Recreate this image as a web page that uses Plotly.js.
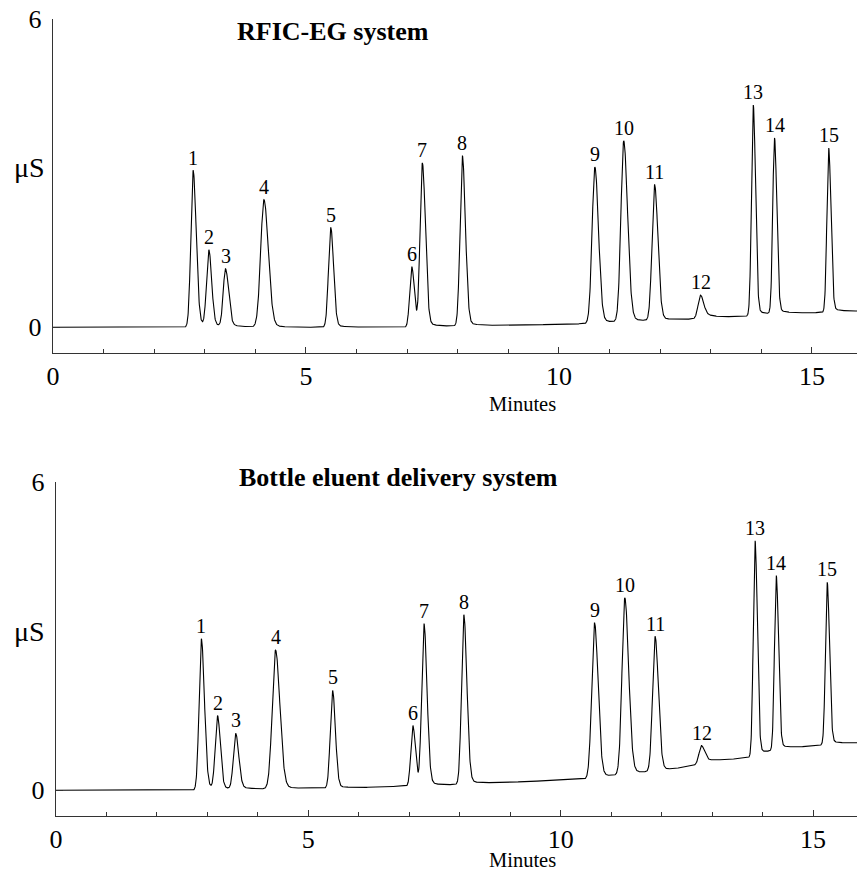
<!DOCTYPE html>
<html>
<head>
<meta charset="utf-8">
<script src="https://cdn.plot.ly/plotly-3.0.1.min.js"></script>
<style>html,body{margin:0;padding:0;background:#fff;}#chart{width:857px;height:870px;}</style>
</head>
<body>
<div id="chart"></div>
<script>
// ---- Data ----
const peakLabels = ["1","2","3","4","5","6","7","8","9","10","11","12","13","14","15"];

// RFIC-EG system (top)
const topTimes   = [2.77, 3.08, 3.41, 4.17, 5.49, 7.09, 7.30, 8.09, 10.71, 11.28, 11.89, 12.80, 13.84, 14.26, 15.33];
const topHeights = [3.05, 1.48, 1.12, 2.48, 1.94, 1.18, 3.18, 3.32, 3.04, 3.52, 2.64, 0.46, 4.10, 3.42, 3.20];
const topBaseT   = [0, 2.7, 5.0, 7.0, 8.0, 8.6, 10.5, 12.2, 12.7, 13.6, 14.7, 15.9];
const topBaseY   = [0, 0, 0, 0, 0.02, 0.03, 0.07, 0.14, 0.16, 0.21, 0.27, 0.31];

// Bottle eluent delivery system (bottom)
const botTimes   = [2.88, 3.20, 3.56, 4.35, 5.48, 7.07, 7.29, 8.08, 10.67, 11.27, 11.87, 12.79, 13.85, 14.27, 15.28];
const botHeights = [2.95, 1.42, 1.08, 2.70, 1.90, 1.18, 3.15, 3.30, 3.02, 3.44, 2.62, 0.36, 4.20, 3.40, 3.16];
const botBaseT   = [0, 2.8, 4.0, 4.6, 6.0, 6.9, 7.6, 8.6, 10.5, 12.2, 12.64, 13.04, 13.77, 14.42, 15.19, 15.87];
const botBaseY   = [0, 0, 0.02, 0.03, 0.05, 0.08, 0.09, 0.14, 0.22, 0.40, 0.48, 0.56, 0.64, 0.80, 0.88, 0.92];

// peak shapes (minutes): leading sigma, trailing sigma, tail fraction
const sigLeft  = [0.045, 0.045, 0.045, 0.065, 0.045, 0.040, 0.045, 0.045, 0.055, 0.055, 0.050, 0.050, 0.035, 0.035, 0.035];
const sigRight = [0.060, 0.055, 0.060, 0.085, 0.055, 0.050, 0.060, 0.060, 0.070, 0.075, 0.065, 0.060, 0.045, 0.045, 0.045];
const tailFrac = [0.04, 0.04, 0.06, 0.03, 0.03, 0.03, 0.03, 0.03, 0.03, 0.03, 0.03, 0.30, 0.03, 0.03, 0.03];
const tailTau = 0.22;

function interp(xs, ys, t) {
  if (t <= xs[0]) return ys[0];
  for (let i = 1; i < xs.length; i++) {
    if (t <= xs[i]) {
      const f = (t - xs[i-1]) / (xs[i] - xs[i-1]);
      return ys[i-1] + f * (ys[i] - ys[i-1]);
    }
  }
  return ys[ys.length - 1];
}

function build(times, heights, baseT, baseY, tEnd) {
  const xs = [], ys = [];
  const step = 0.004;
  for (let t = 0; t <= tEnd + 1e-9; t += step) {
    let y = interp(baseT, baseY, t);
    for (let i = 0; i < times.length; i++) {
      const d = t - times[i];
      if (d < 0) {
        y += heights[i] * Math.exp(-0.5 * (d / sigLeft[i]) ** 2);
      } else {
        const a = tailFrac[i];
        y += heights[i] * ((1 - a) * Math.exp(-0.5 * (d / sigRight[i]) ** 2) + a * Math.exp(-d / tailTau));
      }
    }
    xs.push(+t.toFixed(4)); ys.push(y);
  }
  return {xs, ys};
}

const topSeries = build(topTimes, topHeights, topBaseT, topBaseY, 15.9);
const botSeries = build(botTimes, botHeights, botBaseT, botBaseY, 15.9);

const FONT = "Liberation Serif";
const AX = '#333';

function peakAnnotations(series, times, xref, yref) {
  return times.map((t0, i) => {
    let m = -Infinity;
    for (let k = 0; k < series.xs.length; k++) {
      if (Math.abs(series.xs[k] - t0) < 0.03 && series.ys[k] > m) m = series.ys[k];
    }
    return {x: t0, y: m, xref, yref, text: peakLabels[i], showarrow: false,
            yanchor: 'bottom', yshift: 0, font: {family: FONT, size: 20, color: '#000'}};
  });
}

function xax(domain, range, anchor) {
  return {domain, range, anchor, tickvals: [0, 5, 10, 15], ticktext: ["0","5","10","15"],
    ticks: 'inside', ticklen: 6, tickwidth: 1, tickcolor: AX,
    minor: {dtick: 1, tick0: 0, ticks: 'inside', ticklen: 4, tickwidth: 1, tickcolor: AX},
    showline: true, linecolor: AX, linewidth: 1.2, showgrid: false, zeroline: false,
    tickfont: {family: FONT, size: 26, color: '#000'}, fixedrange: true};
}
function yax(domain, anchor) {
  return {domain, range: [-0.5, 6], anchor, tickvals: [0, 6], ticktext: ["0","6"],
    ticks: 'inside', ticklen: 7, tickwidth: 1, tickcolor: AX, ticklabelstandoff: 5,
    showline: true, linecolor: AX, linewidth: 1.2, showgrid: false, zeroline: false,
    tickfont: {family: FONT, size: 26, color: '#000'}, fixedrange: true};
}

const traces = [
  {x: topSeries.xs, y: topSeries.ys, xaxis: 'x', yaxis: 'y', type: 'scatter', mode: 'lines',
   line: {color: '#000', width: 1.1}, hoverinfo: 'skip'},
  {x: botSeries.xs, y: botSeries.ys, xaxis: 'x2', yaxis: 'y2', type: 'scatter', mode: 'lines',
   line: {color: '#000', width: 1.1}, hoverinfo: 'skip'}
];

const annotations = [
  ...peakAnnotations(topSeries, topTimes, 'x', 'y'),
  ...peakAnnotations(botSeries, botTimes, 'x2', 'y2'),
  {text: '<b>RFIC-EG system</b>', xref: 'paper', yref: 'paper', x: 333/857, y: 1 - 31/870,
   xanchor: 'center', yanchor: 'middle', showarrow: false, font: {family: FONT, size: 26, color: '#000'}},
  {text: '<b>Bottle eluent delivery system</b>', xref: 'paper', yref: 'paper', x: 398/857, y: 1 - 478/870,
   xanchor: 'center', yanchor: 'middle', showarrow: false, font: {family: FONT, size: 26, color: '#000'}},
  {text: 'μS', xref: 'paper', yref: 'paper', x: 29/857, y: 1 - 168/870,
   xanchor: 'center', yanchor: 'middle', showarrow: false, font: {family: FONT, size: 28, color: '#000'}},
  {text: 'μS', xref: 'paper', yref: 'paper', x: 30/857, y: 1 - 631/870,
   xanchor: 'center', yanchor: 'middle', showarrow: false, font: {family: FONT, size: 28, color: '#000'}},
  {text: 'Minutes', xref: 'paper', yref: 'paper', x: 522/857, y: 1 - 404/870,
   xanchor: 'center', yanchor: 'middle', showarrow: false, font: {family: FONT, size: 20.5, color: '#000'}},
  {text: 'Minutes', xref: 'paper', yref: 'paper', x: 522/857, y: 1 - 860/870,
   xanchor: 'center', yanchor: 'middle', showarrow: false, font: {family: FONT, size: 20.5, color: '#000'}}
];

const layout = {
  width: 857, height: 870,
  margin: {l: 0, r: 0, t: 0, b: 0},
  paper_bgcolor: '#fff', plot_bgcolor: '#fff',
  showlegend: false,
  font: {family: FONT, color: '#000'},
  xaxis: xax([53/857, 1], [0, 15.89], 'y'),
  yaxis: yax([1 - 353/870, 1 - 19/870], 'x'),
  xaxis2: xax([56/857, 1], [0, 15.87], 'y2'),
  yaxis2: yax([1 - 816/870, 1 - 482/870], 'x2'),
  annotations
};

Plotly.newPlot('chart', traces, layout, {staticPlot: true, displayModeBar: false});
</script>
</body>
</html>
